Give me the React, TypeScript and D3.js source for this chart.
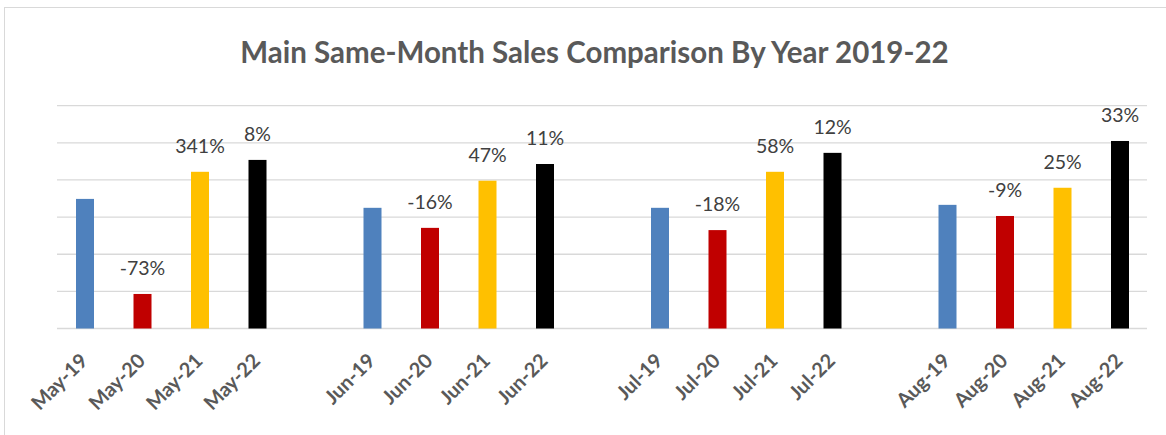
import React from "react";
import * as d3 from "d3";

const months = ["May", "Jun", "Jul", "Aug"];
const years = ["19", "20", "21", "22"];
const seriesColors = ["#4f81bd", "#c00000", "#ffc000", "#000000"];
const mayValues = [34.9, 9.3, 42.2, 45.4];
const junValues = [32.5, 27.1, 39.8, 44.3];
const julValues = [32.5, 26.5, 42.2, 47.3];
const augValues = [33.3, 30.3, 37.9, 50.5];
const mayLabels = ["", "-73%", "341%", "8%"];
const junLabels = ["", "-16%", "47%", "11%"];
const julLabels = ["", "-18%", "58%", "12%"];
const augLabels = ["", "-9%", "25%", "33%"];
const gridTicks = [0, 10, 20, 30, 40, 50, 60];
const title = "Main Same-Month Sales Comparison By Year 2019-22";

const W = 1166;
const H = 435;

type Bar = { key: string; label: string; value: number; growth: string; color: string };

const valuesByMonth = [mayValues, junValues, julValues, augValues];
const labelsByMonth = [mayLabels, junLabels, julLabels, augLabels];

const slots: string[] = [];
const bars: Bar[] = [];
months.forEach((m, mi) => {
  if (mi > 0) slots.push("gap" + mi);
  years.forEach((yr, yi) => {
    const key = `${m}-${yr}`;
    slots.push(key);
    bars.push({
      key,
      label: key,
      value: valuesByMonth[mi][yi],
      growth: labelsByMonth[mi][yi],
      color: seriesColors[yi],
    });
  });
});

export default function App() {
  const pad = 0.687;
  const x = d3
    .scaleBand<string>()
    .domain(slots)
    .range([56.25, 1148.75])
    .paddingInner(pad)
    .paddingOuter(pad / 2);
  const y = d3.scaleLinear().domain([0, 60]).range([328.5, 105.7]);
  const font = "Lato, 'Open Sans', sans-serif";

  return (
    <svg
      width={W}
      height={H}
      style={{ position: "absolute", left: 0, top: 0, background: "#fff" }}
    >
      <rect x={4.5} y={7.5} width={1170} height={440} fill="#fff" stroke="#d9d9d9" strokeWidth={1} />
      <text
        x={594.5}
        y={63}
        textAnchor="middle"
        fontFamily={font}
        fontWeight="bold"
        fontSize={29.5}
        fill="#595959"
      >
        {title}
      </text>
      {gridTicks.map((t) => (
        <line
          key={t}
          x1={57}
          x2={1147}
          y1={y(t)}
          y2={y(t)}
          stroke="#d9d9d9"
          strokeWidth={1.3}
        />
      ))}
      {bars.map((b) => {
        const bx = x(b.key)!;
        const cx = bx + x.bandwidth() / 2;
        return (
          <g key={b.key}>
            <rect x={bx} y={y(b.value)} width={x.bandwidth()} height={y(0) - y(b.value)} fill={b.color} />
            {b.growth && (
              <text
                x={cx}
                y={y(b.value) - 19}
                textAnchor="middle"
                fontFamily={font}
                fontSize={19.5}
                fill="#404040"
              >
                {b.growth}
              </text>
            )}
            <text
              transform={`translate(${cx + 4},${362}) rotate(-45)`}
              textAnchor="end"
              fontFamily={font}
              fontWeight="bold"
              fontSize={20}
              fill="#595959"
            >
              {b.label}
            </text>
          </g>
        );
      })}
    </svg>
  );
}
